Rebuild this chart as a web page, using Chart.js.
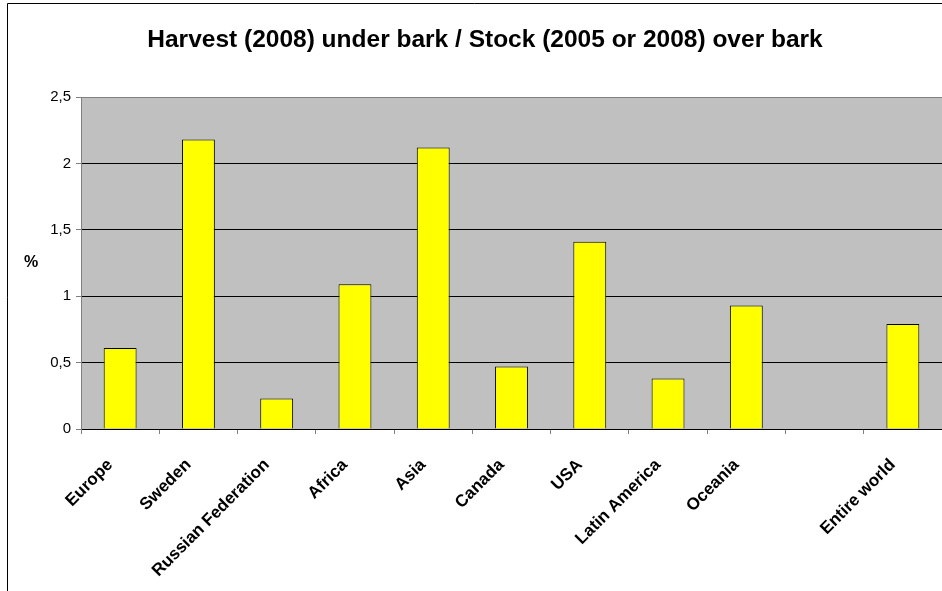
<!DOCTYPE html>
<html>
<head>
<meta charset="utf-8">
<script src="https://cdn.jsdelivr.net/npm/chart.js@4.4.1/dist/chart.umd.min.js"></script>
<style>
  html, body { margin: 0; padding: 0; background: #fff; }
  #wrap { width: 942px; height: 591px; }
</style>
</head>
<body>
<div id="wrap"><canvas id="myChart" width="942" height="591"></canvas></div>
<script>
const regions = ['Europe', 'Sweden', 'Russian Federation', 'Africa', 'Asia', 'Canada', 'USA', 'Latin America', 'Oceania', '', 'Entire world'];
const harvestShare = [0.61, 2.18, 0.23, 1.09, 2.12, 0.47, 1.41, 0.38, 0.93, null, 0.79];
const chartTitle = 'Harvest (2008) under bark / Stock (2005 or 2008) over bark';
const yLabel = '%';

const font = '"Liberation Sans", Arial, sans-serif';

//gray plot area, outer frame, title and the "%" label
//(the title sits centred on the whole Excel frame, which runs past the right edge)
const excelLook = {
  id: 'excelLook',
  beforeDraw(chart) {
    const c = chart.ctx;
    const a = chart.chartArea;
    c.save();
    c.fillStyle = '#fff';
    c.fillRect(0, 0, chart.width, chart.height);
    c.fillStyle = '#c0c0c0';
    c.fillRect(a.left, a.top, a.right - a.left, a.bottom - a.top);
    c.strokeStyle = '#000';
    c.lineWidth = 1;
    c.beginPath();
    c.moveTo(7.5, chart.height);
    c.lineTo(7.5, 3.5);
    c.lineTo(chart.width, 3.5);
    c.stroke();
    c.fillStyle = '#000';
    c.textAlign = 'center';
    c.textBaseline = 'middle';
    c.font = 'bold 24.5px ' + font;
    c.fillText(chartTitle, 485, 40);
    c.font = 'bold 16px ' + font;
    c.fillText(yLabel, 31, (a.top + a.bottom) / 2);
    c.restore();
  }
};

function drawChart() {
  let ctx = document.getElementById('myChart');
  let myChart = new Chart(ctx, {
    type: 'bar',
    data: {
      labels: regions,
      datasets: [{
        data: harvestShare,
        backgroundColor: '#ffff00',
        borderColor: '#000',
        borderWidth: 1,
        barPercentage: 0.42,
        categoryPercentage: 1
      }]
    },
    options: {
      responsive: false,
      animation: false,
      layout: { padding: { top: 97, left: 0, right: 0, bottom: 0 } },
      plugins: {
        legend: { display: false },
        tooltip: { enabled: false },
        title: { display: false }
      },
      scales: {
        x: {
          grid: { drawOnChartArea: false, drawTicks: true, tickLength: 5, color: '#808080', offset: true },
          border: { color: '#000' },
          ticks: {
            color: '#000',
            font: { family: font, size: 17, weight: 'bold' },
            maxRotation: 45,
            minRotation: 45,
            autoSkip: false,
            padding: 21,
            labelOffset: -10
          },
          afterFit(scale) { scale.height = 162; }
        },
        y: {
          min: 0,
          max: 2.5,
          grid: {
            color: (c) => c.tick && c.tick.value === 2.5 ? '#808080' : '#000',
            tickColor: '#808080',
            tickLength: 5
          },
          border: { color: '#808080' },
          ticks: {
            stepSize: 0.5,
            color: '#000',
            font: { family: font, size: 15 },
            padding: 5,
            callback: (v) => String(v).replace('.', ',')
          },
          afterFit(scale) { scale.width = 81; }
        }
      }
    },
    plugins: [excelLook]
  });
}
drawChart();
</script>
</body>
</html>
